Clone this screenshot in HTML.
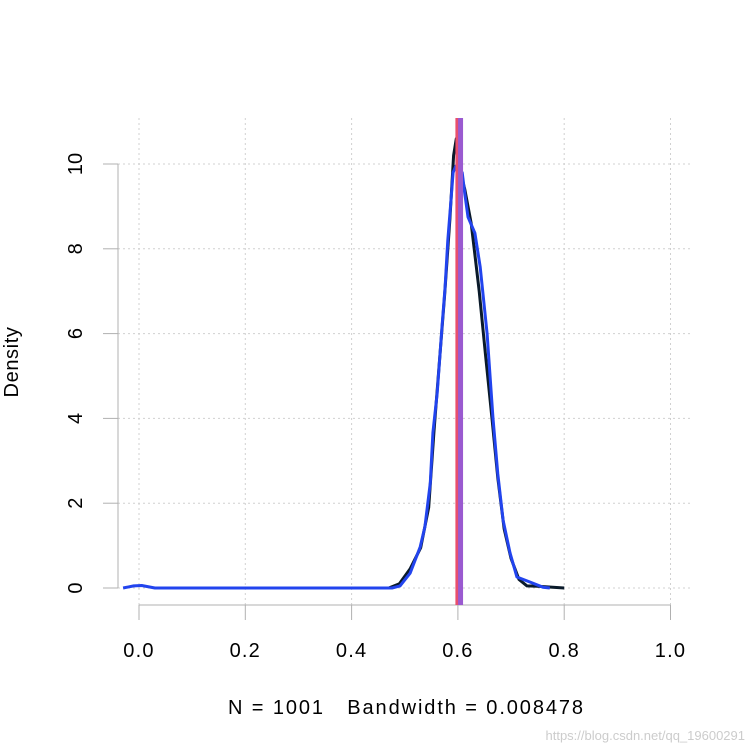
<!DOCTYPE html>
<html><head><meta charset="utf-8"><style>
body{margin:0;background:#fff;}
svg{display:block;font-family:"Liberation Sans",Arial,sans-serif;}
</style></head><body>
<svg id="c" width="753" height="753" xmlns="http://www.w3.org/2000/svg">
<g id="grid"></g>
<g id="axes"></g>
<g id="series"></g>
<text x="18" y="362" font-size="20" text-anchor="middle" letter-spacing="0.6" transform="rotate(-90 18 362)">Density</text>
<text x="228" y="714" font-size="20" textLength="355" lengthAdjust="spacing" style="white-space:pre">N = 1001   Bandwidth = 0.008478</text>
<text x="745" y="740" font-size="13" fill="#ccc" text-anchor="end">https://blog.csdn.net/qq_19600291</text>
</svg>
<script>
const xTicks=[0,0.2,0.4,0.6,0.8,1.0];
const xTickLabels=["0.0","0.2","0.4","0.6","0.8","1.0"];
const yTicks=[0,2,4,6,8,10];
const yTickLabels=["0","2","4","6","8","10"];
const blueX=[-0.03,-0.01,0.005,0.03,0.476,0.491,0.510,0.529,0.538,0.548,0.553,0.561,0.570,0.576,0.581,0.587,0.591,0.596,0.608,0.613,0.619,0.632,0.642,0.655,0.666,0.675,0.685,0.698,0.711,0.736,0.760,0.773];
const blueY=[0,0.05,0.06,0,0,0.05,0.35,0.97,1.44,2.48,3.66,4.6,6.16,7.1,8.2,9.15,9.8,9.95,9.8,9.3,8.75,8.37,7.57,6.0,4.0,2.69,1.6,0.83,0.26,0.14,0.02,0];
const blackX=[0.47,0.49,0.51,0.53,0.545,0.555,0.565,0.575,0.585,0.592,0.597,0.603,0.613,0.625,0.64,0.652,0.665,0.675,0.687,0.70,0.715,0.73,0.75,0.8];
const blackY=[0,0.1,0.45,0.95,1.9,3.7,5.3,6.9,8.7,10.2,10.6,9.9,9.4,8.6,7.0,5.5,3.9,2.6,1.4,0.7,0.2,0.05,0.04,0];
const vLines=[0.6,0.605];
const vColors=["#e8506e","#9a5ad0"];
const X=v=>139+v*531.5, Y=v=>588-v*42.4;
const NS="http://www.w3.org/2000/svg";
function mk(t,a,p){const e=document.createElementNS(NS,t);for(const k in a)e.setAttribute(k,a[k]);p.appendChild(e);return e;}
const grid=document.getElementById('grid'),axes=document.getElementById('axes'),ser=document.getElementById('series');
xTicks.forEach((t,i)=>{
 const g=mk('line',{x1:X(t),x2:X(t),y1:118,y2:605,stroke:'#d0d0d0','stroke-dasharray':'2,3'},grid);
 
 
 const tk=mk('line',{x1:X(t),x2:X(t),y1:605,y2:620,stroke:'#b0b0b0'},axes);
 
 
 const l=mk('text',{x:X(t),y:657,'font-size':20,'text-anchor':'middle','letter-spacing':1.2},axes);l.textContent=xTickLabels[i];
 
 
});
yTicks.forEach((t,i)=>{
 const g=mk('line',{x1:118,x2:692,y1:Y(t),y2:Y(t),stroke:'#d0d0d0','stroke-dasharray':'2,3'},grid);
 
 
 const tk=mk('line',{x1:103,x2:118,y1:Y(t),y2:Y(t),stroke:'#b0b0b0'},axes);
 
 
 const l=mk('text',{x:82,y:Y(t),'font-size':20,'text-anchor':'middle',transform:`rotate(-90 82 ${Y(t)})`},axes);l.textContent=yTickLabels[i];
 
 
});
const xa=mk('line',{x1:X(0),x2:X(1),y1:605,y2:605,stroke:'#b0b0b0'},axes);


const ya=mk('line',{x1:118,x2:118,y1:Y(10),y2:Y(0),stroke:'#b0b0b0'},axes);


const pts=(xs,ys)=>xs.map((x,i)=>X(x).toFixed(1)+','+Y(ys[i]).toFixed(1)).join(' ');
const bl=mk('polyline',{points:pts(blackX,blackY),fill:'none',stroke:'#0a1a2a','stroke-width':3,'stroke-linejoin':'round'},ser);


const bu=mk('polyline',{points:pts(blueX,blueY),fill:'none',stroke:'#2244ee','stroke-width':3,'stroke-linejoin':'round'},ser);


vLines.forEach((v,i)=>{
 const l=mk('line',{x1:X(v),x2:X(v),y1:118,y2:605,stroke:vColors[i],'stroke-width':5},ser);
 
 
});
</script>
</body></html>
